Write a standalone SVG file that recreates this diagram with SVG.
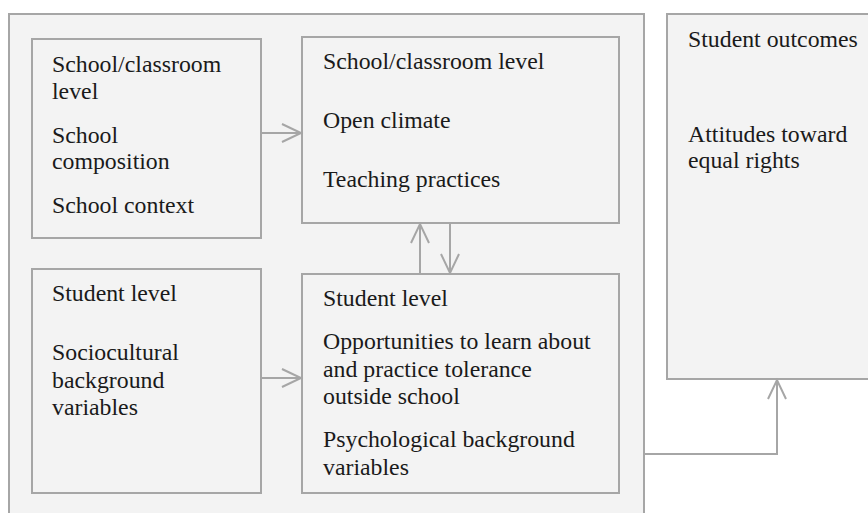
<svg xmlns="http://www.w3.org/2000/svg" width="868" height="513" viewBox="0 0 868 513">
<defs>
<style>
.box{fill:#f3f3f3;stroke:#a6a6a6;stroke-width:2}
.t{font-family:"Liberation Serif","Times New Roman",serif;font-size:23.8px;fill:#1a1a1a}
.c{fill:none;stroke:#a6a6a6;stroke-width:2}
</style>
<marker id="arr" markerUnits="userSpaceOnUse" markerWidth="24" markerHeight="24" refX="20" refY="10" orient="auto" viewBox="0 0 24 24">
<path d="M1 1 L20 10 L1 19" fill="none" stroke="#a6a6a6" stroke-width="2"/>
</marker>
</defs>
<rect width="868" height="513" fill="#ffffff"/>
<g id="outer"><rect class="box" x="9" y="14" width="635" height="510"/></g>
<g id="outcomes">
<rect class="box" x="667" y="14" width="210" height="365"/>
<text class="t" x="688" y="47">Student outcomes</text>
<text class="t" x="688" y="142">Attitudes toward</text>
<text class="t" x="688" y="168">equal rights</text>
</g>
<g id="school-context">
<rect class="box" x="32" y="39" width="229" height="199"/>
<text class="t" x="52" y="72">School/classroom</text>
<text class="t" x="52" y="99">level</text>
<text class="t" x="52" y="143">School</text>
<text class="t" x="52" y="169">composition</text>
<text class="t" x="52" y="213">School context</text>
</g>
<g id="school-climate">
<rect class="box" x="302" y="37" width="317" height="186"/>
<text class="t" x="323" y="69">School/classroom level</text>
<text class="t" x="323" y="128">Open climate</text>
<text class="t" x="323" y="187">Teaching practices</text>
</g>
<g id="student-background">
<rect class="box" x="32" y="269" width="229" height="224"/>
<text class="t" x="52" y="301">Student level</text>
<text class="t" x="52" y="360">Sociocultural</text>
<text class="t" x="52" y="388">background</text>
<text class="t" x="52" y="415">variables</text>
</g>
<g id="student-opportunities">
<rect class="box" x="302" y="274" width="317" height="219"/>
<text class="t" x="323" y="306">Student level</text>
<text class="t" x="323" y="349">Opportunities to learn about</text>
<text class="t" x="323" y="377">and practice tolerance</text>
<text class="t" x="323" y="404">outside school</text>
<text class="t" x="323" y="447">Psychological background</text>
<text class="t" x="323" y="475">variables</text>
</g>
<g id="connectors">
<path class="c" d="M261 133 H301" marker-end="url(#arr)"/>
<path class="c" d="M261 378 H301" marker-end="url(#arr)"/>
<path class="c" d="M420 274 V224" marker-end="url(#arr)"/>
<path class="c" d="M450 223 V273" marker-end="url(#arr)"/>
<path class="c" d="M644 454 H777 V380" marker-end="url(#arr)"/>
</g>
</svg>
